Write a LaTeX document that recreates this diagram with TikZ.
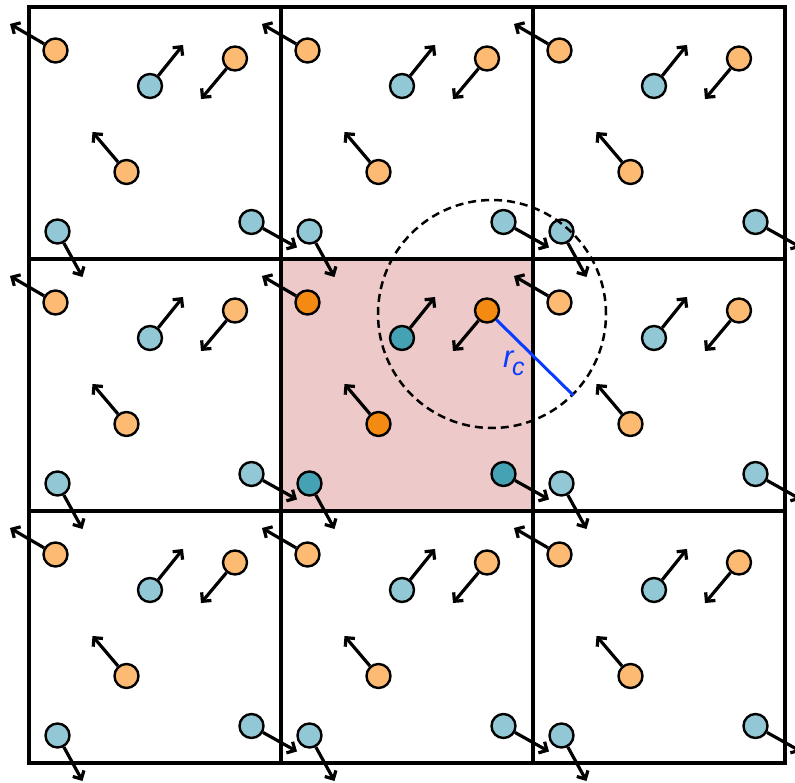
\documentclass[tikz,border=0pt]{standalone}
\usepackage{fontspec}
\setsansfont{Liberation Sans}
\usetikzlibrary{arrows.meta}
\definecolor{orL}{HTML}{FDBA72}
\definecolor{orD}{HTML}{F58A12}
\definecolor{blL}{HTML}{92C8D5}
\definecolor{blD}{HTML}{45A2B5}
\definecolor{cellpink}{HTML}{EDC9C9}
\definecolor{rcblue}{HTML}{0A3CFF}
\tikzset{
  gridline/.style={line width=3.6pt, line join=miter},
  particle/.style={circle, draw=black, line width=2.4pt, minimum size=24pt, inner sep=0pt},
  vec/.style={line width=3.2pt, -{Straight Barb[angle=90:9pt]}},
  cutoff/.style={circle, draw=black, line width=2.5pt, dash pattern=on 8pt off 5pt, minimum size=228pt, inner sep=0pt},
}
\begin{document}
\begin{tikzpicture}[x=1pt,y=-1pt]
\useasboundingbox (0,0) rectangle (795,783);
\clip (0,0) rectangle (795,783);
\fill[cellpink] (281,259) rectangle (533,511);
\foreach \i in {0,1,2}{
  \foreach \j in {0,1,2}{
    \draw[gridline] (29+252*\i,7+252*\j) rectangle ++(252,252);
  }
}
\foreach \i in {0,1,2}{
  \foreach \j in {0,1,2}{
    \begin{scope}[shift={(29+252*\i,7+252*\j)}]
      \def\co{orL}\def\cb{blL}
      \ifnum\i=1 \ifnum\j=1 \def\co{orD}\def\cb{blD}\fi\fi
      \node[particle, fill=\co] (o1-\i-\j) at (26.5,43.5) {};
      \coordinate (t1-\i-\j) at (-19,17);
      \draw[vec] (o1-\i-\j) -- (t1-\i-\j);
      \node[particle, fill=\cb] (b1-\i-\j) at (121,79) {};
      \coordinate (u1-\i-\j) at (154,38);
      \draw[vec] (b1-\i-\j) -- (u1-\i-\j);
      \node[particle, fill=\co] (o2-\i-\j) at (206,51.5) {};
      \coordinate (t2-\i-\j) at (172,92);
      \draw[vec] (o2-\i-\j) -- (t2-\i-\j);
      \node[particle, fill=\co] (o3-\i-\j) at (97.5,165) {};
      \coordinate (t3-\i-\j) at (63.5,125);
      \draw[vec] (o3-\i-\j) -- (t3-\i-\j);
      \node[particle, fill=\cb] (b2-\i-\j) at (28.5,224.5) {};
      \coordinate (u2-\i-\j) at (53.5,270);
      \draw[vec] (b2-\i-\j) -- (u2-\i-\j);
      \node[particle, fill=\cb] (b3-\i-\j) at (222.5,215) {};
      \coordinate (u3-\i-\j) at (268,240.5);
      \draw[vec] (b3-\i-\j) -- (u3-\i-\j);
    \end{scope}
  }
}
\node[cutoff] (cut) at (492,314) {};
\draw[rcblue, line width=3pt] (o2-1-1) -- (cut.-45);
\node[anchor=base west, inner sep=0pt, text=rcblue, font=\sffamily\itshape\fontsize{31}{33}\selectfont] (rc) at (503,368) {r\kern-1.5pt\raisebox{-8pt}{\fontsize{25}{26}\selectfont c}};
\end{tikzpicture}
\end{document}
